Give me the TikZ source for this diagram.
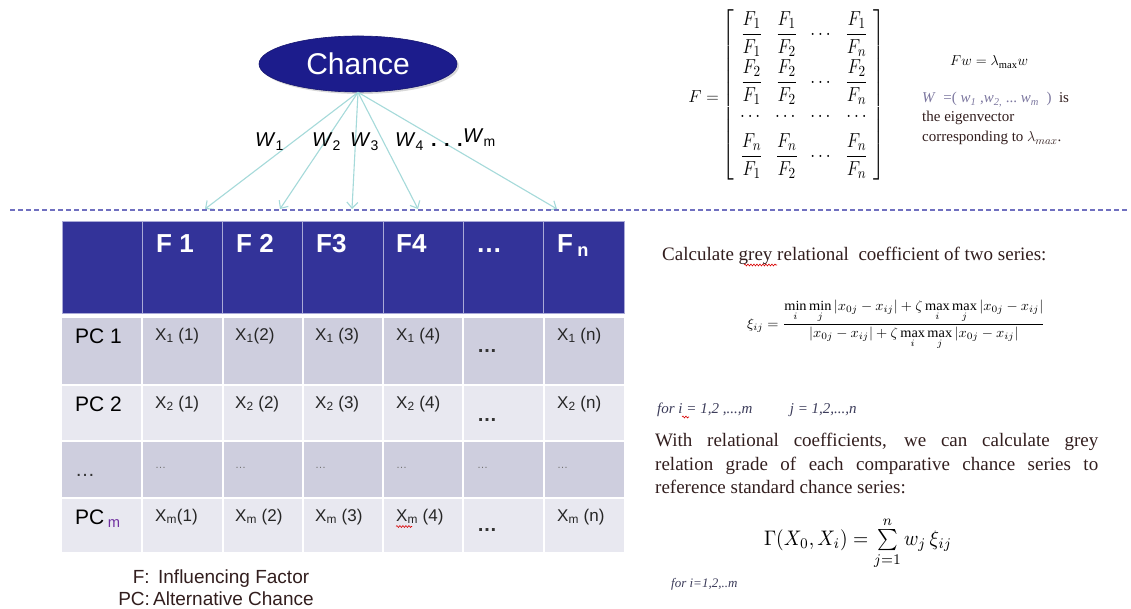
\documentclass[tikz,border=0pt]{standalone}
\usepackage{fontspec}
\setmainfont{Liberation Serif}
\setsansfont{Liberation Sans}
\usepackage{amsmath}
\usepackage{graphicx}
\usetikzlibrary{shapes.geometric,arrows.meta,shadows,decorations.pathmorphing}
\definecolor{navy}{RGB}{28,28,140}
\definecolor{hdrcol}{RGB}{51,51,153}
\definecolor{hdrline}{RGB}{170,170,215}
\definecolor{rowa}{RGB}{206,206,222}
\definecolor{rowb}{RGB}{232,232,240}
\definecolor{arrowcol}{RGB}{165,218,218}
\definecolor{dashcol}{RGB}{112,112,192}
\definecolor{txtdark}{RGB}{50,30,30}
\definecolor{vecgray}{RGB}{125,120,160}
\definecolor{forgray}{RGB}{60,60,90}
\definecolor{subpurple}{RGB}{112,48,160}
\tikzset{
  warrow/.style={draw=arrowcol, line width=1.1pt, -{Straight Barb[length=6pt,width=11pt]}},
  hdrtxt/.style={anchor=base west, inner sep=0pt, text=white, font=\sffamily\bfseries\fontsize{26}{30}\selectfont},
  pctxt/.style={anchor=base west, inner sep=0pt, text=black, font=\sffamily\fontsize{21}{24}\selectfont},
  xtxt/.style={anchor=base west, inner sep=0pt, text=black!85, font=\sffamily\fontsize{17}{20}\selectfont},
  dottxt/.style={anchor=base west, inner sep=0pt, text=black!80, font=\sffamily\bfseries\fontsize{20}{22}\selectfont},
  smalldot/.style={anchor=base west, inner sep=0pt, text=black!55, font=\sffamily\fontsize{11}{12}\selectfont},
  wlab/.style={anchor=base west, inner sep=0pt, text=black, font=\sffamily\fontsize{20}{22}\selectfont},
  serif/.style={inner sep=0pt, text=txtdark, font=\rmfamily\fontsize{15}{20}\selectfont},
  squig/.style={draw=red!85!black, line width=0.6pt, decorate, decoration={snake, amplitude=0.9pt, segment length=3pt}}
}
\begin{document}
\begin{tikzpicture}[x=1pt,y=-1pt]
\useasboundingbox (0,0) rectangle (1131,609);
\fill[white] (0,0) rectangle (1131,609);

% Chance ellipse
\node[ellipse, minimum width=198pt, minimum height=56pt, fill=navy, draw=navy!80!black, line width=0.6pt,
      drop shadow={opacity=0.3, shadow xshift=2pt, shadow yshift=-2pt},
      text=white, font=\sffamily\fontsize{30}{34}\selectfont] (chance) at (358,64) {Chance};

% arrow targets
\coordinate (a1) at (205,209);
\coordinate (a2) at (280,209);
\coordinate (a3) at (352,209);
\coordinate (a4) at (418,209);
\coordinate (a5) at (557,209);
\foreach \t in {a1,a2,a3,a4,a5} \draw[warrow] (chance.south) -- (\t);

% weight labels
\node[wlab] (w1) at (255,147) {\textit{W}\textsubscript{1}};
\node[wlab] (w2) at (312,147) {\textit{W}\textsubscript{2}};
\node[wlab] (w3) at (350,147) {\textit{W}\textsubscript{3}};
\node[wlab] (w4) at (395,147) {\textit{W}\textsubscript{4}};
\node[wlab, font=\sffamily\bfseries\fontsize{20}{22}\selectfont] (wd) at (431,147) {. . .};
\node[wlab] (wm) at (463,143) {\textit{W}\textsubscript{m}};

% dashed separator
\coordinate (dl) at (10,210);
\coordinate (dr) at (1128,210);
\draw[dashcol, line width=1.3pt, dash pattern=on 4.5pt off 3.5pt] (dl) -- (dr);

% table header
\fill[hdrcol] (62,221) rectangle (624,313);
\draw[hdrline, line width=0.8pt] (62,221) rectangle (624,313);
\foreach \x in {142.3,222.6,302.9,383.1,463.4,543.7}
  \draw[hdrline, line width=1pt] (\x,221) -- (\x,313);

% table body
\foreach \t/\b/\c in {318/384/rowa,386/440/rowb,442/497/rowa,499/552/rowb}{
  \foreach \l/\r in {62/141.3,143.3/221.6,223.6/301.9,303.9/382.1,384.1/462.4,464.4/542.7,544.7/624}
    \fill[\c] (\l,\t) rectangle (\r,\b);
}

% header texts
\node[hdrtxt] (hf1) at (156,253) {F 1};
\node[hdrtxt] (hf2) at (236,253) {F 2};
\node[hdrtxt] (hf3) at (316,253) {F3};
\node[hdrtxt] (hf4) at (396,253) {F4};
\node[hdrtxt] (hfd) at (476,253) {\ldots};
\node[hdrtxt] (hfn) at (557,253) {F\,\textsubscript{n}};

% row 1
\node[pctxt] (pc1) at (75,343) {PC 1};
\node[xtxt] (x11) at (155,340) {X\textsubscript{1} (1)};
\node[xtxt] (x12) at (235,340) {X\textsubscript{1}(2)};
\node[xtxt] (x13) at (315,340) {X\textsubscript{1} (3)};
\node[xtxt] (x14) at (396,340) {X\textsubscript{1} (4)};
\node[dottxt] (x1d) at (477,352) {\ldots};
\node[xtxt] (x1n) at (557,340) {X\textsubscript{1} (n)};

% row 2
\node[pctxt] (pc2) at (75,411) {PC 2};
\node[xtxt] (x21) at (155,408) {X\textsubscript{2} (1)};
\node[xtxt] (x22) at (235,408) {X\textsubscript{2} (2)};
\node[xtxt] (x23) at (315,408) {X\textsubscript{2} (3)};
\node[xtxt] (x24) at (396,408) {X\textsubscript{2} (4)};
\node[dottxt] (x2d) at (477,421) {\ldots};
\node[xtxt] (x2n) at (557,408) {X\textsubscript{2} (n)};

% row 3
\node[dottxt, font=\sffamily\fontsize{20}{22}\selectfont] (pc3) at (75,476) {\ldots};
\foreach \x/\n in {155/a,235/b,315/c,396/d,477/e,557/f}
  \node[smalldot] (s\n) at (\x,468) {\ldots};

% row 4
\node[pctxt] (pcm) at (75,524) {PC\,\textsubscript{\textcolor{subpurple}{m}}};
\node[xtxt] (xm1) at (155,521) {X\textsubscript{m}(1)};
\node[xtxt] (xm2) at (235,521) {X\textsubscript{m} (2)};
\node[xtxt] (xm3) at (315,521) {X\textsubscript{m} (3)};
\node[xtxt] (xm4) at (396,521) {X\textsubscript{m} (4)};
\node[dottxt] (xmd) at (477,531) {\ldots};
\node[xtxt] (xmn) at (557,521) {X\textsubscript{m} (n)};
\coordinate (sq1a) at (396,526.5);
\coordinate (sq1b) at (412,526.5);
\draw[squig] (sq1a) -- (sq1b);

% legend
\node[inner sep=0pt, text=txtdark, font=\sffamily\fontsize{19}{22}\selectfont, anchor=base] (lf) at (221,583) {F:\, Influencing Factor};
\node[inner sep=0pt, text=txtdark, font=\sffamily\fontsize{19}{22}\selectfont, anchor=base] (lpc) at (216,605) {PC:\,Alternative Chance};

% matrix F
\node[inner sep=0pt, anchor=east] (feq) at (719,97) {\fontsize{17}{20}\selectfont$F=$};
\node[inner sep=0pt] (fmat) at (804,95) {\resizebox*{163pt}{170pt}{\fontsize{15}{18}\selectfont$\left[\begin{array}{cccc}
\dfrac{F_1}{F_1} & \dfrac{F_1}{F_2} & \cdots & \dfrac{F_1}{F_n}\\[9pt]
\dfrac{F_2}{F_1} & \dfrac{F_2}{F_2} & \cdots & \dfrac{F_2}{F_n}\\[4pt]
\cdots & \cdots & \cdots & \cdots\\[3pt]
\dfrac{F_n}{F_1} & \dfrac{F_n}{F_2} & \cdots & \dfrac{F_n}{F_n}
\end{array}\right]$}};

\node[inner sep=0pt, anchor=west] (fw) at (950,62) {\fontsize{15}{17}\selectfont$Fw=\lambda_{\max}w$};
\node[serif, anchor=base west] (ev1) at (922,103) {\textcolor{vecgray}{\textit{W}\ \ =(\ \textit{w}\textsubscript{\textit{1}}\ ,\textit{w}\textsubscript{\textit{2},}\ ...\ \textit{w}\textsubscript{\textit{m}}\ \ )}\ \ is};
\node[serif, anchor=base west] (ev2) at (922,122) {the eigenvector};
\node[serif, anchor=base west] (ev3) at (922,142) {corresponding to $\lambda_{max}$.};

% grey relational coefficient
\node[serif, anchor=base west, font=\rmfamily\fontsize{19}{22}\selectfont] (calc) at (662,261) {Calculate grey relational\ \ coefficient of two series:};
\coordinate (sq2a) at (744,265);
\coordinate (sq2b) at (777,265);
\draw[squig] (sq2a) -- (sq2b);

\node[inner sep=0pt] (xi) at (896,325) {\resizebox*{298pt}{50pt}{$\xi_{ij}=\dfrac{\min\limits_i\min\limits_j\left|x_{0j}-x_{ij}\right|+\zeta\max\limits_i\max\limits_j\left|x_{0j}-x_{ij}\right|}{\left|x_{0j}-x_{ij}\right|+\zeta\max\limits_i\max\limits_j\left|x_{0j}-x_{ij}\right|}$}};

\node[serif, anchor=base west, text=forgray, font=\rmfamily\itshape\fontsize{15}{17}\selectfont] (for1) at (657,413) {for i = 1,2 ,...,m\qquad\ \ j = 1,2,...,n};
\coordinate (sq3a) at (682,417);
\coordinate (sq3b) at (689,417);
\draw[squig] (sq3a) -- (sq3b);

\node[serif, anchor=north west, text width=443pt, align=justify, font=\rmfamily\fontsize{19}{23.5}\selectfont] (para) at (655,433)
{With relational coefficients, we can calculate grey\linebreak relation grade of each comparative chance series to\linebreak reference standard chance series:};

\node[inner sep=0pt] (gam) at (858,543) {\resizebox*{188pt}{52pt}{$\Gamma(X_0,X_i)=\sum\limits_{j=1}^{n}w_j\,\xi_{ij}$}};

\node[serif, anchor=base west, text=forgray, font=\rmfamily\itshape\fontsize{13}{15}\selectfont] (for2) at (671,587) {for i=1,2,..m};
\end{tikzpicture}
\end{document}
